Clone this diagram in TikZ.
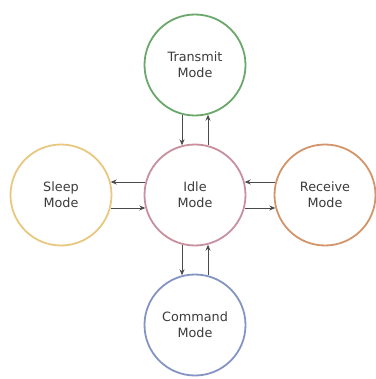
\documentclass[tikz,border=0pt]{standalone}
\usepackage{fontspec}
\setmainfont{DejaVu Sans}
\usetikzlibrary{arrows.meta,calc}
\definecolor{cgreen}{HTML}{6AA86A}
\definecolor{cpink}{HTML}{C8909E}
\definecolor{cyellow}{HTML}{E8C880}
\definecolor{corange}{HTML}{D4946A}
\definecolor{cblue}{HTML}{8494C4}
\definecolor{ctext}{HTML}{3C3C3C}
\definecolor{cline}{HTML}{4A4A4A}
\tikzset{
  state/.style={circle, draw=#1, line width=1.8pt, fill=white, minimum size=101pt, inner sep=0pt,
    align=center, text=ctext, font=\fontsize{12.8}{16}\selectfont},
  arr/.style={draw=cline, line width=0.7pt, -{Stealth[length=6pt,width=5pt]}}
}
\begin{document}
\begin{tikzpicture}[x=1pt,y=-1pt]
\useasboundingbox (0,0) rectangle (375,379);
\node[state=cpink]   (I) at (195,195) {Idle\\Mode};
\node[state=cgreen]  (T) at (195,65)  {Transmit\\Mode};
\node[state=cblue]   (C) at (195,325) {Command\\Mode};
\node[state=cyellow] (S) at (61,195)  {Sleep\\Mode};
\node[state=corange] (R) at (325,195) {Receive\\Mode};
\def\rr{49.7}
% Transmit <-> Idle
\draw[arr] ($(T.center)+(-13,\rr)$) -- ($(I.center)+(-13,-\rr)$);
\draw[arr] ($(I.center)+(13,-\rr)$) -- ($(T.center)+(13,\rr)$);
% Idle <-> Command
\draw[arr] ($(I.center)+(-13,\rr)$) -- ($(C.center)+(-13,-\rr)$);
\draw[arr] ($(C.center)+(13,-\rr)$) -- ($(I.center)+(13,\rr)$);
% Sleep <-> Idle
\draw[arr] ($(I.center)+(-\rr,-13)$) -- ($(S.center)+(\rr,-13)$);
\draw[arr] ($(S.center)+(\rr,13)$) -- ($(I.center)+(-\rr,13)$);
% Receive <-> Idle
\draw[arr] ($(R.center)+(-\rr,-13)$) -- ($(I.center)+(\rr,-13)$);
\draw[arr] ($(I.center)+(\rr,13)$) -- ($(R.center)+(-\rr,13)$);
\end{tikzpicture}
\end{document}
